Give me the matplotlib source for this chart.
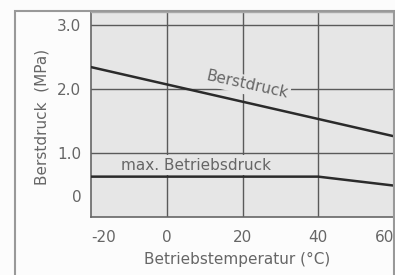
import numpy as np
import matplotlib.pyplot as plt
from matplotlib.patches import Rectangle

plt.rcParams['font.family'] = ['DejaVu Sans']

# data
temp_burst = [-20, 60]
burst = [2.34, 1.26]
temp_work = [-20, 40, 60]
work = [0.63, 0.63, 0.49]

xticks = [-20, 0, 20, 40, 60]
xticklabels = ['-20', '0', '20', '40', '60']
yticks = [0.33, 1.0, 2.0, 3.0]
yticklabels = ['0', '1.0', '2.0', '3.0']
xgrid = [0, 20, 40]
ygrid = [1.0, 2.0, 3.0]

txt = '#666666'
bg = '#e6e6e6'
W, H = 395, 275

fig = plt.figure(figsize=(3.95, 2.75), dpi=100)
fig.patch.set_facecolor('#fcfcfc')
ax = fig.add_axes([91 / W, 1 - 217 / H, 303 / W, 205 / H])
ax.set_facecolor(bg)
ax.set_xlim(-20, 60)
ax.set_ylim(0, 3.2)

for g in xgrid:
    ax.axvline(g, color='#5a5a5a', lw=1.0, zorder=1)
for g in ygrid:
    ax.axhline(g, color='#5a5a5a', lw=1.0, zorder=1)

ax.plot(temp_burst, burst, color='#2b2b2b', lw=1.8, zorder=3)
ax.plot(temp_work, work, color='#2b2b2b', lw=1.8, zorder=3)

ax.text(21.2, 2.06, 'Berstdruck', rotation=-12.5, rotation_mode='anchor',
        ha='center', va='center', fontsize=11, color=txt, zorder=4,
        bbox=dict(facecolor=bg, edgecolor='none', pad=1.5))
ax.text(7.6, 0.81, 'max. Betriebsdruck', ha='center', va='center',
        fontsize=11, color=txt, zorder=4,
        bbox=dict(facecolor=bg, edgecolor='none', pad=1.5))

ax.set_xticks(xticks)
ax.set_xticklabels(xticklabels)
ax.set_yticks(yticks)
ax.set_yticklabels(yticklabels)
ax.tick_params(length=0, labelsize=11, labelcolor=txt)
ax.tick_params(axis='x', pad=9)
ax.tick_params(axis='y', pad=7)
labs = ax.get_xticklabels()
labs[0].set_ha('left')
labs[-1].set_ha('right')

for s in ['left', 'bottom']:
    ax.spines[s].set_color('#666666')
    ax.spines[s].set_linewidth(1.2)
for s in ['top', 'right']:
    ax.spines[s].set_color('#aaaaaa')
    ax.spines[s].set_linewidth(1.0)

fig.text(42 / W, 1 - 117 / H, 'Berstdruck  (MPa)', rotation=90,
         ha='center', va='center', fontsize=11, color=txt)
fig.text(237 / W, 1 - 259 / H, 'Betriebstemperatur (\u00b0C)',
         ha='center', va='center', fontsize=11, color=txt)

# outer frame
fig.patches.append(Rectangle((14.5 / W, -0.1), (394 - 14.5) / W, 1.1 - 11 / H,
                             transform=fig.transFigure, fill=False,
                             edgecolor='#999999', lw=1.5, clip_on=False))

fig.savefig('out.png', dpi=100, facecolor=fig.get_facecolor())
